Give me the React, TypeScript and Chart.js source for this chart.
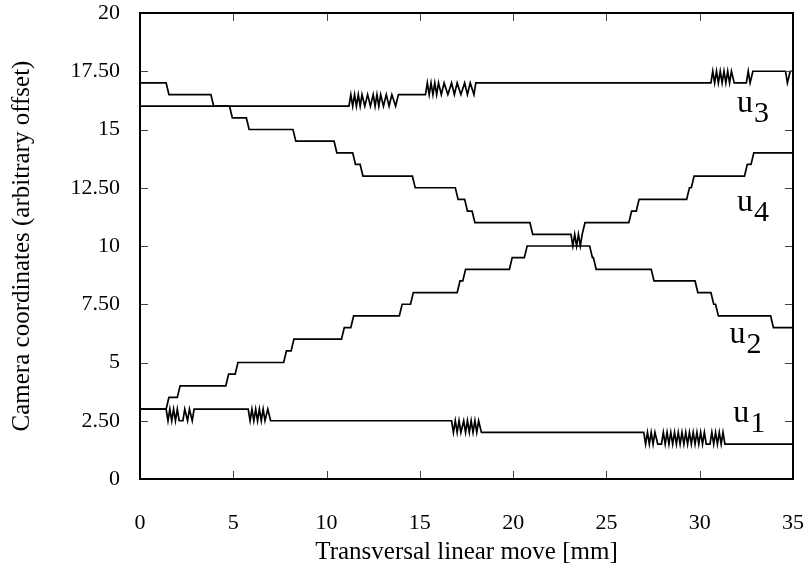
import React, { useEffect, useRef } from "react";
import { Chart, registerables } from "chart.js";

Chart.register(...registerables);

const xTickValues = [0, 5, 10, 15, 20, 25, 30, 35];
const yTickValues = [0, 2.5, 5, 7.5, 10, 12.5, 15, 17.5, 20];
const yTickLabels = ["0", "2.50", "5", "7.50", "10", "12.50", "15", "17.50", "20"];

const u1: [number, number][] = [
  [0, 3], [1.4, 3], [1.5, 2.5], [1.6, 3], [1.7, 2.5], [1.8, 3], [1.9, 2.5], [2.0, 3], [2.1, 2.5],
  [2.3, 2.5], [2.4, 3], [2.55, 2.5], [2.65, 3], [2.8, 2.5], [2.9, 3],
  [5.8, 3], [5.9, 2.5], [6.0, 3], [6.1, 2.5], [6.2, 3], [6.3, 2.5], [6.4, 3], [6.5, 2.5], [6.6, 3],
  [6.7, 2.5], [6.85, 3], [7.0, 2.5],
  [16.7, 2.5], [16.8, 2], [16.9, 2.5], [17.0, 2], [17.1, 2.5], [17.2, 2], [17.35, 2.5], [17.45, 2],
  [17.55, 2.5], [17.65, 2], [17.75, 2.5], [17.85, 2], [17.95, 2.5], [18.05, 2], [18.15, 2.5], [18.3, 2],
  [27.0, 2], [27.1, 1.5], [27.2, 2], [27.3, 1.5], [27.4, 2], [27.5, 1.5], [27.6, 2], [27.75, 1.5],
  [27.95, 1.5], [28.05, 2], [28.15, 1.5], [28.25, 2], [28.35, 1.5], [28.45, 2], [28.55, 1.5], [28.65, 2],
  [28.75, 1.5], [28.85, 2], [28.95, 1.5], [29.05, 2], [29.15, 1.5], [29.25, 2], [29.35, 1.5], [29.45, 2],
  [29.55, 1.5], [29.65, 2], [29.75, 1.5], [29.85, 2], [29.95, 1.5], [30.05, 2], [30.15, 1.5], [30.25, 2],
  [30.35, 1.5], [30.55, 1.5], [30.65, 2], [30.75, 1.5], [30.85, 2], [30.95, 1.5], [31.05, 2], [31.15, 1.5],
  [31.25, 2], [31.35, 1.5], [35, 1.5],
];

const u2: [number, number][] = [
  [0, 3], [1.4, 3], [1.55, 3.5], [2.0, 3.5], [2.15, 4], [4.6, 4], [4.75, 4.5], [5.1, 4.5], [5.25, 5],
  [7.7, 5], [7.85, 5.5], [8.1, 5.5], [8.25, 6], [10.8, 6], [10.95, 6.5], [11.3, 6.5], [11.45, 7],
  [13.9, 7], [14.05, 7.5], [14.5, 7.5], [14.65, 8], [17.0, 8], [17.15, 8.5], [17.3, 8.5], [17.45, 9],
  [19.8, 9], [19.95, 9.5], [20.6, 9.5], [20.75, 10], [24.1, 10], [24.25, 9.5], [24.3, 9.5], [24.45, 9],
  [27.4, 9], [27.55, 8.5], [29.75, 8.5], [29.9, 8], [30.6, 8], [30.75, 7.5], [30.85, 7.5], [31.0, 7],
  [33.8, 7], [33.95, 6.5], [35, 6.5],
];

const u3: [number, number][] = [
  [0, 17], [1.4, 17], [1.55, 16.5], [3.8, 16.5], [3.95, 16], [11.2, 16],
  [11.3, 16.5], [11.4, 16], [11.5, 16.5], [11.6, 16], [11.7, 16.5], [11.8, 16], [11.9, 16.5], [12.05, 16],
  [12.2, 16.5], [12.35, 16], [12.5, 16.5], [12.6, 16], [12.7, 16.5], [12.8, 16], [12.9, 16.5], [13.05, 16],
  [13.2, 16.5], [13.35, 16], [13.5, 16.5], [13.7, 16], [13.85, 16.5],
  [15.3, 16.5], [15.4, 17], [15.5, 16.5], [15.6, 17], [15.7, 16.5], [15.8, 17], [15.9, 16.5], [16.0, 17],
  [16.15, 16.5], [16.3, 17], [16.5, 16.5], [16.7, 17], [16.85, 16.5], [17.0, 17], [17.2, 16.5], [17.4, 17],
  [17.55, 16.5], [17.7, 17], [17.9, 16.5], [18.0, 17],
  [30.6, 17], [30.7, 17.5], [30.8, 17], [30.9, 17.5], [31.0, 17], [31.1, 17.5], [31.2, 17], [31.3, 17.5],
  [31.4, 17], [31.5, 17.5], [31.6, 17], [31.7, 17.5], [31.85, 17], [32.5, 17], [32.6, 17.5], [32.7, 17],
  [32.85, 17.5], [34.6, 17.5], [34.7, 17], [34.85, 17.5], [35, 17.5],
];

const u4: [number, number][] = [
  [0, 16], [4.8, 16], [4.95, 15.5], [5.7, 15.5], [5.85, 15], [8.2, 15], [8.35, 14.5], [10.4, 14.5],
  [10.55, 14], [11.4, 14], [11.55, 13.5], [11.8, 13.5], [11.95, 13], [14.6, 13], [14.75, 12.5],
  [16.9, 12.5], [17.05, 12], [17.4, 12], [17.55, 11.5], [17.8, 11.5], [17.95, 11], [20.9, 11],
  [21.05, 10.5], [23.1, 10.5], [23.2, 10], [23.3, 10.5], [23.4, 10], [23.5, 10.5], [23.6, 10],
  [23.7, 10.5], [23.85, 11], [26.2, 11], [26.35, 11.5], [26.6, 11.5], [26.75, 12], [29.3, 12],
  [29.45, 12.5], [29.55, 12.5], [29.7, 13], [32.4, 13], [32.55, 13.5], [32.75, 13.5], [32.9, 14], [35, 14],
];

const seriesList = [u1, u2, u3, u4];

const curveLabels = [
  { sub: "1", x: 31.8, y: 2.45 },
  { sub: "2", x: 31.6, y: 5.85 },
  { sub: "3", x: 32.0, y: 15.75 },
  { sub: "4", x: 32.0, y: 11.5 },
];

const SERIF = '"Liberation Serif", "Times New Roman", serif';

const framePlugin = {
  id: "frameTicks",
  afterDraw(chart: any) {
    const { ctx, chartArea: a, scales } = chart;
    const xs = scales.x;
    const ys = scales.y;
    ctx.save();
    ctx.strokeStyle = "#444";
    ctx.lineWidth = 1;
    ctx.beginPath();
    xTickValues.forEach((v) => {
      const px = Math.round(xs.getPixelForValue(v)) + 0.5;
      ctx.moveTo(px, a.bottom);
      ctx.lineTo(px, a.bottom - 8);
      ctx.moveTo(px, a.top);
      ctx.lineTo(px, a.top + 8);
    });
    yTickValues.forEach((v) => {
      const py = Math.round(ys.getPixelForValue(v)) + 0.5;
      ctx.moveTo(a.left, py);
      ctx.lineTo(a.left + 8, py);
      ctx.moveTo(a.right, py);
      ctx.lineTo(a.right - 8, py);
    });
    ctx.stroke();
    ctx.strokeStyle = "#000";
    ctx.lineWidth = 2;
    ctx.strokeRect(a.left, a.top, a.right - a.left, a.bottom - a.top);

    ctx.fillStyle = "#000";
    ctx.textAlign = "left";
    ctx.textBaseline = "alphabetic";
    curveLabels.forEach((l) => {
      const px = xs.getPixelForValue(l.x);
      const py = ys.getPixelForValue(l.y);
      ctx.font = `32px ${SERIF}`;
      ctx.fillText("u", px, py);
      const w = ctx.measureText("u").width;
      ctx.font = `30px ${SERIF}`;
      ctx.fillText(l.sub, px + w + 1, py + 10);
    });
    ctx.restore();
  },
};

const zeroPad = (s: any) => {
  s.paddingTop = 0;
  s.paddingBottom = 0;
  s.paddingLeft = 0;
  s.paddingRight = 0;
};

export default function App() {
  const ref = useRef<HTMLCanvasElement | null>(null);

  useEffect(() => {
    if (!ref.current) return;
    const chart = new Chart(ref.current, {
      type: "line",
      data: {
        datasets: seriesList.map((s) => ({
          data: s.map(([x, y]) => ({ x, y })),
          borderColor: "#000",
          borderWidth: 1.7,
          pointRadius: 0,
          fill: false,
          tension: 0,
        })),
      },
      options: {
        animation: false,
        responsive: true,
        maintainAspectRatio: false,
        layout: { padding: { top: 13, right: 15, left: 0, bottom: 0 } },
        plugins: { legend: { display: false }, tooltip: { enabled: false } },
        scales: {
          x: {
            type: "linear",
            min: 0,
            max: 35,
            afterBuildTicks: (s: any) => {
              s.ticks = xTickValues.map((v) => ({ value: v }));
            },
            afterFit: (s: any) => {
              s.height = 89;
              zeroPad(s);
            },
            ticks: {
              color: "#000",
              font: { family: SERIF, size: 22 },
              padding: 31,
              maxRotation: 0,
              autoSkip: false,
            },
            grid: { display: false, drawTicks: false },
            border: { display: false },
            title: {
              display: true,
              text: "Transversal linear move [mm]",
              color: "#000",
              font: { family: SERIF, size: 25 },
              padding: { top: 0, bottom: 1 },
            },
          },
          y: {
            type: "linear",
            min: 0,
            max: 20,
            afterBuildTicks: (s: any) => {
              s.ticks = yTickValues.map((v) => ({ value: v }));
            },
            afterFit: (s: any) => {
              s.width = 140;
              zeroPad(s);
            },
            ticks: {
              color: "#000",
              font: { family: SERIF, size: 22 },
              padding: 20,
              autoSkip: false,
              callback: (_v: any, i: number) => yTickLabels[i],
            },
            grid: { display: false, drawTicks: false },
            border: { display: false },
            title: {
              display: true,
              text: "Camera coordinates (arbitrary offset)",
              color: "#000",
              font: { family: SERIF, size: 25 },
              padding: { top: 7, bottom: 0 },
            },
          },
        },
      },
      plugins: [framePlugin],
    });
    return () => chart.destroy();
  }, []);

  return (
    <div style={{ position: "fixed", left: 0, top: 0, width: 808, height: 568, background: "#fff" }}>
      <canvas ref={ref} />
    </div>
  );
}
